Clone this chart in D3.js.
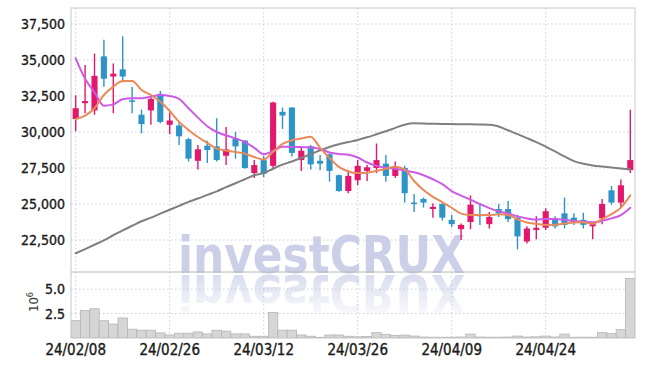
<!DOCTYPE html>
<html>
<head>
<meta charset="utf-8">
<script src="https://cdn.jsdelivr.net/npm/d3@7"></script>
<style>
  html, body { margin: 0; padding: 0; background: #fff; }
  svg { display: block; }
  text { font-family: "Liberation Sans Narrow", "DejaVu Sans Condensed", sans-serif; }
</style>
</head>
<body>
<svg id="chart" width="645" height="366"></svg>
<script>
// ---- data ----
const dates = ["24/02/08","24/02/13","24/02/14","24/02/15","24/02/16","24/02/19","24/02/20","24/02/21","24/02/22","24/02/23",
  "24/02/26","24/02/27","24/02/28","24/02/29","24/03/04","24/03/05","24/03/06","24/03/07","24/03/08","24/03/11",
  "24/03/12","24/03/13","24/03/14","24/03/15","24/03/18","24/03/19","24/03/20","24/03/21","24/03/22","24/03/25",
  "24/03/26","24/03/27","24/03/28","24/03/29","24/04/01","24/04/02","24/04/03","24/04/04","24/04/05","24/04/08",
  "24/04/09","24/04/11","24/04/12","24/04/15","24/04/16","24/04/17","24/04/18","24/04/19","24/04/22","24/04/23",
  "24/04/24","24/04/25","24/04/26","24/04/29","24/04/30","24/05/02","24/05/03","24/05/07","24/05/08","24/05/09"];

const openP  = [30900,32000,31500,35250,33850,34350,32200,31200,31500,32650,30500,30450,29500,28000,29050,29000,28350,29550,29400,27150,
  28050,27650,31400,31700,28050,29000,28000,28450,27000,25900,26650,27300,27500,27800,26950,27500,25100,25350,24650,25000,
  23900,23250,23750,24300,23600,24650,24650,24050,22400,23200,23350,23950,24350,24050,23900,23450,24000,25950,25100,27350];
const highP  = [32550,34650,35450,36400,34750,36650,33150,31550,32550,32850,31350,30700,29600,29100,29400,30950,30350,30000,29450,28050,
  28350,32100,31700,31700,29000,29100,28400,28500,27050,27350,28050,27700,29200,28400,27950,27650,25700,25450,25050,25050,
  24250,23650,25600,24950,24450,25000,25200,24250,23450,24150,24700,24150,25450,24350,24400,23750,25350,26250,26700,31550];
const lowP   = [30050,31300,31200,33150,31300,33450,31300,29900,30500,30600,29850,29100,27950,27400,27850,27950,27700,28150,27450,26800,
  26850,27500,30200,28300,27300,27400,27350,26550,25850,25750,26300,26600,27150,26550,26800,25100,24450,24750,24050,23850,
  23400,22500,23250,23550,23300,24100,23750,21850,22250,22550,23200,23300,23300,23550,23300,22550,23600,24950,24750,27150];
const closeP = [31650,32150,33900,33700,34050,33850,32100,30550,32300,30700,30800,29700,28150,28800,28750,28050,28800,29000,27500,27700,
  27100,32050,31150,28550,28700,27750,27800,27300,25900,26950,27650,27550,28050,26950,27600,25750,25000,25100,24800,24050,
  23600,23550,24950,24150,24100,24350,23950,22750,23300,23350,24500,23450,23550,23750,23550,23600,25000,25100,26300,28050];
// volume in millions of shares
const volume = [1.77,2.81,2.99,1.77,1.43,2.05,0.90,0.80,0.80,0.52,0.31,0.49,0.49,0.62,0.42,0.80,0.70,0.42,0.42,0.18,
  0.18,2.60,0.80,0.80,0.31,0.18,0.07,0.31,0.31,0.18,0.12,0.15,0.55,0.35,0.25,0.30,0.20,0.10,0.08,0.08,
  0.08,0.10,0.40,0.10,0.08,0.08,0.10,0.20,0.10,0.12,0.20,0.10,0.40,0.08,0.08,0.08,0.55,0.45,0.85,6.10];
// moving averages
const maShort = [30900,31130,31650,32570,33150,33540,33540,32920,32570,32100,31460,30700,30140,29650,29240,28850,28720,28610,28500,28260,
  28090,28630,29170,29430,29550,29675,28900,28200,27580,27260,27150,27170,27300,27450,27590,27400,26600,25970,25500,25120,
  24740,24330,24235,24235,24235,24280,24235,23930,23720,23630,23550,23560,23640,23720,23740,23630,23950,24300,24750,25600];
const maMid = [35120,33700,32750,31830,31920,32270,32340,32340,32450,32570,32500,32300,31650,31000,30400,30000,29760,29560,29300,28900,
  28450,28680,28980,28960,28950,28935,28810,28580,28470,28420,28230,27880,27650,27520,27450,27330,27200,27000,26720,26380,
  25900,25580,25300,25000,24710,24490,24340,24140,24000,23910,23960,23950,23900,23820,23760,23730,23830,24000,24230,24740];
const maLong = [21580,21870,22170,22480,22830,23170,23490,23800,24050,24330,24600,24870,25150,25380,25630,25880,26170,26440,26720,27000,
  27150,27450,27730,27950,28200,28460,28720,28960,29150,29300,29450,29630,29840,30050,30290,30510,30600,30590,30570,30560,
  30550,30540,30530,30520,30500,30380,30120,29850,29580,29300,28990,28650,28300,27980,27800,27680,27600,27530,27470,27400];
const xTickLabels = ["24/02/08","24/02/26","24/03/12","24/03/26","24/04/09","24/04/24"];
const priceTicks = [22500,25000,27500,30000,32500,35000,37500];
const volumeTicks = [2.5,5.0];

// ---- layout ----
const L = 71, R = 635, T = 8, M = 272, B = 338;
const svg = d3.select("#chart");

const x = d3.scaleBand().domain(dates).range([L, R]).paddingInner(0.35).paddingOuter(0.175);
const xv = d3.scaleBand().domain(dates).range([L, R]).padding(0);
const cx = d => x(d) + x.bandwidth() / 2;
const y = d3.scaleLinear().domain([20278, 38611]).range([M, T]);
const yv = d3.scaleLinear().domain([0, 6.75]).range([B, M]);

const rows = dates.map((d, i) => ({d, o: openP[i], h: highP[i], l: lowP[i], c: closeP[i], v: volume[i],
  s: maShort[i], m: maMid[i], g: maLong[i]}));

// defs
const defs = svg.append("defs");
defs.append("clipPath").attr("id", "clipTop").append("rect").attr("x", L).attr("y", T).attr("width", R - L).attr("height", M - T);
defs.append("clipPath").attr("id", "clipBot").append("rect").attr("x", L).attr("y", M).attr("width", R - L).attr("height", B - M);
const grad = defs.append("linearGradient").attr("id", "reflGrad").attr("gradientUnits", "userSpaceOnUse")
  .attr("x1", 0).attr("y1", 273).attr("x2", 0).attr("y2", 322);
grad.append("stop").attr("offset", "0%").attr("stop-color", "#fff").attr("stop-opacity", 0.7);
grad.append("stop").attr("offset", "100%").attr("stop-color", "#fff").attr("stop-opacity", 0);
defs.append("mask").attr("id", "reflMask").attr("maskUnits", "userSpaceOnUse")
  .attr("x", 0).attr("y", 0).attr("width", 645).attr("height", 366)
  .append("rect").attr("x", 0).attr("y", 273).attr("width", 645).attr("height", 60).attr("fill", "url(#reflGrad)");
defs.append("text").attr("id", "wmText").attr("x", 178).attr("y", 273).attr("textLength", 287).attr("lengthAdjust", "spacingAndGlyphs")
  .attr("font-family", "Liberation Sans, Arial, sans-serif").attr("font-weight", "bold").attr("font-size", 52)
  .text("investCRUX");

// grid
const gridC = "#c9cde0";
const g = svg.append("g");
g.selectAll(".hg").data(priceTicks).join("line")
  .attr("x1", L).attr("x2", R).attr("y1", d => y(d)).attr("y2", d => y(d))
  .attr("stroke", gridC).attr("stroke-dasharray", "1.5,2.5");
g.selectAll(".hv").data(volumeTicks).join("line")
  .attr("x1", L).attr("x2", R).attr("y1", d => yv(d)).attr("y2", d => yv(d))
  .attr("stroke", gridC).attr("stroke-dasharray", "1.5,2.5");
g.selectAll(".vg").data(xTickLabels).join("line")
  .attr("x1", d => cx(d)).attr("x2", d => cx(d)).attr("y1", T).attr("y2", B)
  .attr("stroke", gridC).attr("stroke-dasharray", "1.5,2.5");

// watermark + reflection
svg.append("use").attr("href", "#wmText").attr("fill", "#c6cce6").attr("opacity", 0.9);
svg.append("g").attr("clip-path", "url(#clipBot)").attr("mask", "url(#reflMask)")
  .append("use").attr("href", "#wmText").attr("fill", "#c6cce6")
  .attr("transform", "translate(0,548) scale(1,-1)");

// volume bars
svg.append("g").attr("clip-path", "url(#clipBot)")
  .selectAll("rect").data(rows).join("rect")
  .attr("x", d => xv(d.d)).attr("width", xv.bandwidth())
  .attr("y", d => yv(d.v)).attr("height", d => yv(0) - yv(d.v))
  .attr("fill", "#d6d6d6").attr("stroke", "#b5b5b5").attr("stroke-width", 0.8);

// candles
const up = "#e2186c", down = "#2e94c8";
const cg = svg.append("g").attr("clip-path", "url(#clipTop)");
cg.selectAll(".wick").data(rows).join("line")
  .attr("x1", d => cx(d.d)).attr("x2", d => cx(d.d))
  .attr("y1", d => y(d.h)).attr("y2", d => y(d.l))
  .attr("stroke", d => d.c >= d.o ? up : down).attr("stroke-width", 1.4);
cg.selectAll(".body").data(rows).join("rect")
  .attr("x", d => x(d.d)).attr("width", x.bandwidth())
  .attr("y", d => y(Math.max(d.o, d.c)))
  .attr("height", d => Math.max(1.5, Math.abs(y(d.o) - y(d.c))))
  .attr("fill", d => d.c >= d.o ? up : down);

// moving averages
const lineGen = key => d3.line().x(d => cx(d.d)).y(d => y(d[key])).curve(d3.curveMonotoneX);
const lg = svg.append("g").attr("clip-path", "url(#clipTop)").attr("fill", "none").attr("stroke-width", 2)
  .attr("stroke-linejoin", "round").attr("stroke-linecap", "round");
lg.append("path").datum(rows).attr("d", lineGen("g")).attr("stroke", "#808080");
lg.append("path").datum(rows).attr("d", lineGen("m")).attr("stroke", "#cc5ae6");
lg.append("path").datum(rows).attr("d", lineGen("s")).attr("stroke", "#ea8a58");

// borders
const bc = "#c8c8c8";
svg.append("rect").attr("x", L).attr("y", T).attr("width", R - L).attr("height", B - T)
  .attr("fill", "none").attr("stroke", bc);
svg.append("line").attr("x1", L).attr("x2", R).attr("y1", M).attr("y2", M).attr("stroke", "#b8b8b8");

// axes
const styleTicks = (sel, size) => sel.attr("font-size", size).attr("fill", "#1a1a1a")
  .attr("stroke", "#1a1a1a").attr("stroke-width", 0.35)
  .attr("font-family", "Liberation Sans Narrow, DejaVu Sans Condensed, sans-serif");
const yAxis = d3.axisLeft(y).tickValues(priceTicks).tickFormat(d3.format(",")).tickSize(0).tickPadding(6);
svg.append("g").attr("transform", `translate(${L},0)`).call(yAxis)
  .call(a => a.select(".domain").remove())
  .selectAll("text").call(styleTicks, 14);
const yvAxis = d3.axisLeft(yv).tickValues(volumeTicks).tickFormat(d3.format(".1f")).tickSize(0).tickPadding(6);
svg.append("g").attr("transform", `translate(${L},0)`).call(yvAxis)
  .call(a => a.select(".domain").remove())
  .selectAll("text").call(styleTicks, 14);
const xAxis = d3.axisBottom(x).tickValues(xTickLabels).tickSize(0).tickPadding(6);
svg.append("g").attr("transform", `translate(0,${B})`).call(xAxis)
  .call(a => a.select(".domain").remove())
  .selectAll("text").call(styleTicks, 15);

// 10^6 label
const ul = svg.append("text").attr("transform", "translate(38,302) rotate(-90)")
  .attr("text-anchor", "middle").attr("font-size", 13).attr("fill", "#333")
  .attr("font-family", "DejaVu Sans, sans-serif");
ul.append("tspan").text("10");
ul.append("tspan").attr("dy", -5).attr("font-size", 9).text("6");
</script>
</body>
</html>
